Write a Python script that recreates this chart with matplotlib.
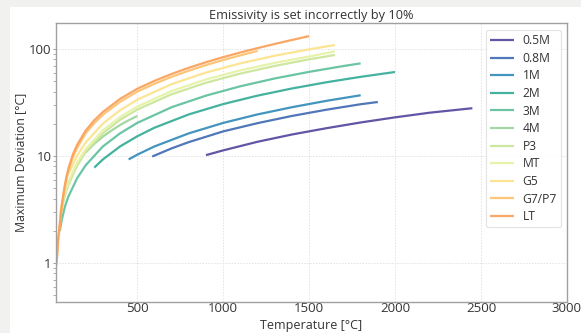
import matplotlib
matplotlib.use("Agg")
import matplotlib.pyplot as plt
from matplotlib.patches import Rectangle
from matplotlib.ticker import FixedLocator, FixedFormatter, LogLocator, NullFormatter

plt.rcParams['font.family'] = ['Open Sans', 'DejaVu Sans']

labels = ["0.5M", "0.8M", "1M", "2M", "3M", "4M", "P3", "MT", "G5", "G7/P7", "LT"]
colors = ["#5b4ba0", "#4770b4", "#3a8fbb", "#3aae9a", "#63c29e", "#9fd59d",
          "#cbe69b", "#e6f2a6", "#fde38d", "#fdc273", "#f9a25c"]

t_05m = [900, 1000, 1200, 1400, 1600, 1800, 2000, 2200, 2450]
v_05m = [10.2, 11.3, 13.6, 15.9, 18.2, 20.6, 23.0, 25.4, 28.0]
t_08m = [587, 700, 800, 1000, 1200, 1400, 1600, 1800, 1900]
v_08m = [9.9, 11.8, 13.5, 17.0, 20.3, 23.7, 27.1, 30.5, 32.0]
t_1m = [450, 500, 600, 800, 1000, 1200, 1400, 1600, 1800]
v_1m = [9.3, 10.3, 12.3, 16.3, 20.4, 24.5, 28.6, 32.8, 37.0]
t_2m = [250, 300, 400, 500, 600, 800, 1000, 1200, 1400, 1600, 1800, 2000]
v_2m = [7.8, 9.3, 12.3, 15.3, 18.4, 24.5, 30.6, 36.7, 42.8, 48.9, 55.0, 61.0]
t_3m = [50, 60, 80, 100, 150, 200, 300, 400, 500, 700, 900, 1100, 1300, 1500, 1700, 1800]
v_3m = [2.0, 2.5, 3.4, 4.2, 6.2, 8.2, 12.3, 16.3, 20.4, 28.6, 36.7, 44.9, 53.1, 61.2, 69.4, 73.5]
t_4m = [200, 250, 300, 350, 400, 450, 500]
v_4m = [10.8, 13.0, 15.2, 17.3, 19.5, 21.6, 23.7]
t_p3 = [50, 60, 80, 100, 150, 200, 300, 400, 500, 700, 900, 1100, 1300, 1500, 1650]
v_p3 = [2.7, 3.2, 4.3, 5.4, 8.1, 10.9, 16.3, 21.8, 27.2, 37.8, 48.4, 59.0, 69.5, 80.1, 88.0]
t_mt = [50, 60, 80, 100, 150, 200, 300, 400, 500, 700, 900, 1100, 1300, 1500, 1650]
v_mt = [2.9, 3.5, 4.6, 5.8, 8.7, 11.6, 17.4, 23.2, 29.0, 40.5, 52.0, 63.2, 74.3, 85.2, 95.0]
t_g5 = [100, 150, 200, 300, 400, 500, 700, 900, 1100, 1300, 1500, 1650]
v_g5 = [6.8, 10.1, 13.4, 20.1, 26.8, 33.6, 47.0, 60.3, 73.5, 86.6, 99.4, 109.0]
t_g7 = [30, 40, 50, 60, 70, 80, 90, 100, 125, 150, 200, 250, 300, 400, 500, 600, 700,
        800, 900, 1000, 1100, 1200]
v_g7 = [0.94, 1.6, 2.25, 3.2, 4.15, 5.2, 6.2, 7.2, 9.7, 11.9, 16.3, 20.3, 24.3, 32.1,
        40.0, 47.4, 55.0, 62.8, 70.8, 79.0, 87.3, 96.0]
t_lt = [30, 40, 50, 60, 70, 80, 90, 100, 125, 150, 200, 250, 300, 400, 500, 600, 700,
        800, 900, 1000, 1100, 1200, 1300, 1400, 1500]
v_lt = [1.0, 1.7, 2.4, 3.4, 4.4, 5.5, 6.6, 7.7, 10.3, 12.7, 17.3, 21.6, 25.8, 34.2,
        42.5, 50.4, 58.5, 66.8, 75.3, 84.0, 92.9, 102.0, 111.6, 121.5, 132.0]

temps = [t_05m, t_08m, t_1m, t_2m, t_3m, t_4m, t_p3, t_mt, t_g5, t_g7, t_lt]
devs = [v_05m, v_08m, v_1m, v_2m, v_3m, v_4m, v_p3, v_mt, v_g5, v_g7, v_lt]

x_ticks = [500, 1000, 1500, 2000, 2500, 3000]
y_ticks = [1, 10, 100]
y_ticklabels = ["1", "10", "100"]

W, H = 581, 333
fig = plt.figure(figsize=(W / 100, H / 100), dpi=100, facecolor="#f1f1ef")
bg = Rectangle((10 / W, 0), 1, 1 - 7 / H, transform=fig.transFigure,
               facecolor="white", edgecolor="none", zorder=-10)
fig.add_artist(bg)
ax_l, ax_r, ax_t, ax_b = 55.6, 566.9, 23.3, 302.3
ax = fig.add_axes([ax_l / W, 1 - ax_b / H, (ax_r - ax_l) / W, (ax_b - ax_t) / H])
ax.set_zorder(1)
ax.set_facecolor("white")

for t, v, c, lab in zip(temps, devs, colors, labels):
    ax.plot(t, v, color=c, lw=1.6, label=lab, alpha=0.95, solid_capstyle="butt")

ax.set_yscale("log")
ax.set_xlim(25, 3000)
ax.set_ylim(0.43, 174)
ax.xaxis.set_major_locator(FixedLocator(x_ticks))
ax.yaxis.set_major_locator(FixedLocator(y_ticks))
ax.yaxis.set_major_formatter(FixedFormatter(y_ticklabels))
ax.yaxis.set_minor_locator(LogLocator(base=10, subs=range(2, 10)))
ax.yaxis.set_minor_formatter(NullFormatter())

ax.grid(True, which="major", color="#e2e2e2", linestyle=(0, (1.5, 1.5)), linewidth=0.7)
for s in ax.spines.values():
    s.set_color("#a0a0a0")
    s.set_linewidth(1.0)
ax.tick_params(axis="x", which="major", labelsize=9.5, length=0, pad=0.0,
               labelcolor="#333333")
ax.tick_params(axis="y", which="major", labelsize=9.5, length=2.5, pad=0.3,
               colors="#a0a0a0", labelcolor="#333333", width=0.7)
ax.tick_params(axis="y", which="minor", colors="#a0a0a0", length=2, width=0.6)

fig.text((ax_l + ax_r) / 2 / W, 1 - 15.7 / H, "Emissivity is set incorrectly by 10%",
         fontsize=9.2, color="#333333", ha="center", va="center")
ax.set_xlabel("Temperature [°C]", fontsize=9.0, color="#333333")
ax.xaxis.label.set_va("center")
ax.xaxis.set_label_coords(0.5, -(325 - ax_b) / (ax_b - ax_t))
ax.set_ylabel("Maximum Deviation [°C]", fontsize=8.8, color="#333333")
ax.yaxis.label.set_va("center")
ax.yaxis.set_label_coords(-(ax_l - 20.5) / (ax_r - ax_l), 0.5)

leg = ax.legend(loc="upper right", fontsize=8.7, labelspacing=0.38, handlelength=2.0,
                handletextpad=0.7, borderpad=0.35, borderaxespad=0, frameon=True,
                fancybox=True,
                bbox_to_anchor=((561 - ax_l) / (ax_r - ax_l), (ax_b - 30) / (ax_b - ax_t)))
leg.get_frame().set_edgecolor("#dcdcdc")
leg.get_frame().set_linewidth(0.8)
for txt in leg.get_texts():
    txt.set_color("#333333")

fig.savefig("out.png", dpi=100, facecolor=fig.get_facecolor())
